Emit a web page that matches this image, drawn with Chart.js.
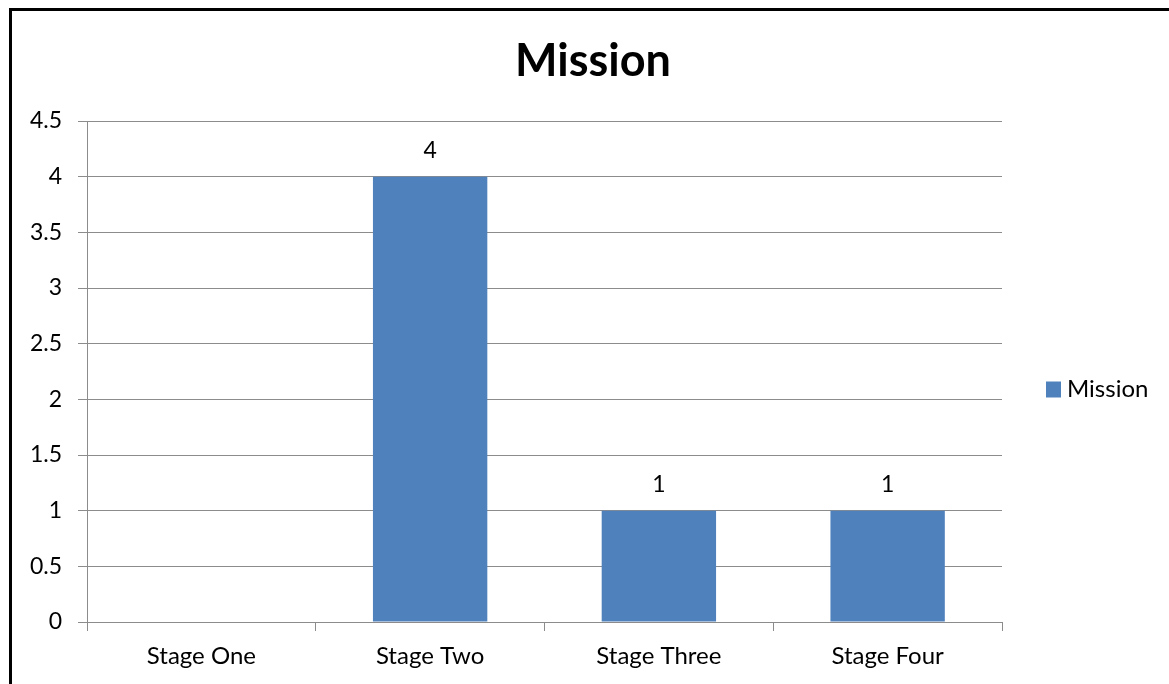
<!DOCTYPE html>
<html>
<head>
<meta charset="utf-8">
<script src="https://cdn.jsdelivr.net/npm/chart.js@4/dist/chart.umd.min.js"></script>
<style>
  html, body { margin: 0; padding: 0; background: #fff; overflow: hidden; }
  #wrap { position: relative; width: 1169px; height: 684px; }
  #frame {
    position: absolute; left: 9px; top: 8px; width: 1200px; height: 700px;
    border-left: 3px solid #000; border-top: 3px solid #000; box-sizing: border-box;
  }
  canvas { position: absolute; left: 0; top: 0; }
</style>
</head>
<body>
<div id="wrap">
  <div id="frame"></div>
  <canvas id="chart_mission" width="1169" height="684"></canvas>
</div>
<script>
const stages = ["Stage One", "Stage Two", "Stage Three", "Stage Four"];
const missionValues = [0, 4, 1, 1];
const seriesName = "Mission";
const chartTitle = "Mission";
const yTicks = [0, 0.5, 1, 1.5, 2, 2.5, 3, 3.5, 4, 4.5];

const FONT = "Lato";
const GRID = "#8c8c8c";

// title centred on the whole frame (not only the plot), like the original
const frameTitle = {
  id: "frameTitle",
  afterDraw(chart) {
    const ctx = chart.ctx;
    ctx.save();
    ctx.font = "bold 45px " + FONT;
    ctx.fillStyle = "#000";
    ctx.textAlign = "center";
    ctx.textBaseline = "middle";
    ctx.fillText(chartTitle, 593, 61);
    ctx.restore();
  },
};

// value labels above bars (zero gets no label, as in the original)
const barLabels = {
  id: "barLabels",
  afterDatasetsDraw(chart) {
    const ctx = chart.ctx;
    const meta = chart.getDatasetMeta(0);
    ctx.save();
    ctx.font = "23px " + FONT;
    ctx.fillStyle = "#000";
    ctx.textAlign = "center";
    ctx.textBaseline = "middle";
    meta.data.forEach((bar, i) => {
      const v = chart.data.datasets[0].data[i];
      if (!v) return;
      ctx.fillText(String(v), bar.x, bar.y - 26);
    });
    ctx.restore();
  },
};

// legend on the right, drawn by hand so it sits where the original has it
const sideLegend = {
  id: "sideLegend",
  afterDraw(chart) {
    const ctx = chart.ctx;
    const y = (chart.chartArea.top + chart.chartArea.bottom) / 2 + 18;
    ctx.save();
    ctx.fillStyle = "#4f81bd";
    ctx.fillRect(1046, y - 8, 15, 16);
    ctx.fillStyle = "#000";
    ctx.font = "24px " + FONT;
    ctx.textAlign = "left";
    ctx.textBaseline = "middle";
    ctx.fillText(seriesName, 1067, y);
    ctx.restore();
  },
};

var ctx = document.getElementById("chart_mission").getContext("2d");
var missionChart = new Chart(ctx, {
  type: "bar",
  data: {
    labels: stages,
    datasets: [
      {
        label: seriesName,
        data: missionValues,
        backgroundColor: "#4f81bd",
        borderWidth: 0,
        barPercentage: 0.5,
        categoryPercentage: 1.0,
      },
    ],
  },
  options: {
    responsive: false,
    animation: false,
    layout: {
      padding: { left: 0, top: 121, right: 167, bottom: 0 },
    },
    plugins: {
      legend: { display: false },
      tooltip: { enabled: false },
      title: { display: false },
    },
    scales: {
      x: {
        grid: {
          display: true,
          drawOnChartArea: false,
          drawTicks: true,
          tickLength: 9,
          color: GRID,
          offset: true,
        },
        border: { color: GRID, width: 1 },
        ticks: {
          color: "#000",
          font: { family: FONT, size: 24 },
          padding: 11,
          maxRotation: 0,
        },
        afterFit(scale) {
          scale.height = 62;
        },
      },
      y: {
        min: 0,
        max: 4.5,
        afterBuildTicks(scale) {
          scale.ticks = yTicks.map((v) => ({ value: v }));
        },
        grid: {
          color: GRID,
          tickLength: 9,
          drawTicks: true,
        },
        border: { color: GRID, width: 1 },
        ticks: {
          color: "#000",
          font: { family: FONT, size: 23 },
          padding: 16,
          callback: (v) => String(v),
        },
        afterFit(scale) {
          scale.width = 87;
        },
      },
    },
  },
  plugins: [barLabels, sideLegend, frameTitle],
});
</script>
</body>
</html>
